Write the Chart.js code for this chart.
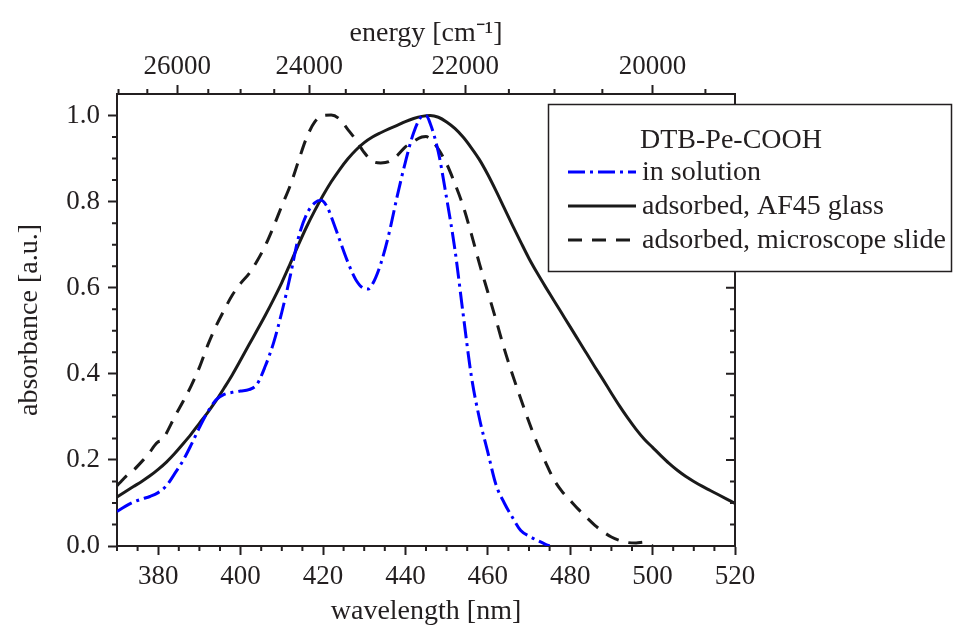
<!DOCTYPE html>
<html lang="en">
<head>
<meta charset="UTF-8">
<title>DTB-Pe-COOH absorbance</title>
<script src="https://cdn.jsdelivr.net/npm/chart.js"></script>
<style>
    html, body { margin: 0; padding: 0; background: #fff; }
    #chart { display: block; }
</style>
</head>
<body>
<canvas id="chart" width="953" height="628"></canvas>
<script>
// in solution (blue dash-dot)
const solutionWl = [370, 372, 374, 376, 378, 380, 382, 384, 386, 388, 390, 392, 394, 396, 398, 400, 402, 404, 406, 408,
    410, 412, 414, 416, 418, 419.5, 421, 422, 424, 426, 428, 430, 431, 432, 434, 436, 438, 440, 442, 444, 445, 446, 448,
    450, 452, 454, 456, 458, 460, 462, 464, 466, 468, 470, 472, 474, 475];
const solutionAbs = [0.080, 0.092, 0.102, 0.109, 0.115, 0.124, 0.140, 0.168, 0.198, 0.235, 0.275, 0.311, 0.339, 0.352, 0.357, 0.360, 0.363, 0.376, 0.418, 0.472,
    0.543, 0.625, 0.715, 0.770, 0.797, 0.803, 0.788, 0.765, 0.712, 0.660, 0.618, 0.598, 0.597, 0.608, 0.655, 0.725, 0.812, 0.892, 0.960, 0.998, 1.0, 0.982, 0.915,
    0.808, 0.690, 0.540, 0.395, 0.295, 0.218, 0.142, 0.100, 0.066, 0.036, 0.023, 0.013, 0.004, 0.0];

// adsorbed, AF45 glass (solid)
const af45Wl = [370, 372, 374, 376, 378, 380, 382, 384, 386, 388, 390, 392, 394, 396, 398, 400, 402, 404, 406, 408,
    410, 412, 414, 416, 418, 420, 422, 424, 426, 428, 430, 432, 434, 436, 438, 440, 442, 444, 446, 448,
    450, 452, 454, 456, 458, 460, 462, 464, 466, 468, 470, 472, 474, 476, 478, 480, 482, 484, 486, 488,
    490, 492, 494, 496, 498, 500, 502, 504, 506, 508, 510, 512, 514, 516, 518, 520];
const af45Abs = [0.114, 0.126, 0.138, 0.150, 0.163, 0.178, 0.195, 0.215, 0.237, 0.260, 0.285, 0.310, 0.337, 0.367, 0.398, 0.432, 0.467, 0.501, 0.536, 0.573,
    0.612, 0.655, 0.699, 0.741, 0.779, 0.814, 0.846, 0.874, 0.899, 0.920, 0.937, 0.950, 0.960, 0.969, 0.977, 0.986, 0.993, 0.998, 1.0, 0.996,
    0.985, 0.970, 0.950, 0.925, 0.897, 0.863, 0.825, 0.785, 0.745, 0.706, 0.668, 0.634, 0.602, 0.571, 0.540, 0.509, 0.478, 0.447, 0.416, 0.386,
    0.355, 0.325, 0.297, 0.271, 0.248, 0.229, 0.210, 0.192, 0.176, 0.162, 0.150, 0.139, 0.129, 0.119, 0.109, 0.099];

// adsorbed, microscope slide (dashed)
const slideWl = [370, 371, 372, 374, 376, 378, 379, 380, 381, 382, 384, 386, 388, 390, 392, 394, 396, 398, 400, 402,
    404, 406, 408, 410, 412, 414, 416, 418, 420, 422, 424, 426, 428, 430, 432, 434, 436, 438, 440, 442,
    444, 445, 446, 448, 450, 452, 454, 456, 458, 460, 462, 464, 466, 468, 470, 472, 474, 476, 478, 480,
    482, 484, 486, 488, 490, 492, 494, 496, 498, 499, 500];
const slideAbs = [0.140, 0.150, 0.160, 0.176, 0.196, 0.218, 0.232, 0.242, 0.246, 0.262, 0.300, 0.335, 0.372, 0.415, 0.466, 0.510, 0.548, 0.583, 0.610, 0.632,
    0.662, 0.698, 0.742, 0.790, 0.836, 0.893, 0.948, 0.985, 1.0, 1.001, 0.992, 0.968, 0.943, 0.914, 0.894, 0.890, 0.893, 0.907, 0.927, 0.940,
    0.950, 0.951, 0.946, 0.922, 0.888, 0.842, 0.790, 0.725, 0.655, 0.590, 0.525, 0.458, 0.398, 0.342, 0.288, 0.238, 0.195, 0.155, 0.127, 0.106,
    0.085, 0.066, 0.048, 0.033, 0.021, 0.013, 0.008, 0.007, 0.009, 0.006, 0.0];

const wlTicks = [380, 400, 420, 440, 460, 480, 500, 520];
const absTicks = [0, 0.2, 0.4, 0.6, 0.8, 1.0];
const energyTicks = [26000, 24000, 22000, 20000];
const energyMinor = [27000, 26500, 25500, 25000, 24500, 23500, 23000, 22500, 21500, 21000, 20500, 19500];

const legendTitle = 'DTB-Pe-COOH';
const ink = '#231f20';
const serif = '"Liberation Serif", "Times New Roman", serif';
const tickFont = { family: serif, size: 27 };
const titleFont = { family: serif, size: 28 };

const toPoints = (xs, ys) => xs.map((x, i) => ({ x: x, y: ys[i] }));

// minor ticks + inward ticks on the right axis
const minorTicks = {
    id: 'minorTicks',
    afterDraw(chart) {
        const { ctx, chartArea: a, scales } = chart;
        ctx.save();
        ctx.strokeStyle = ink;
        ctx.lineWidth = 2;
        ctx.beginPath();
        for (let w = 370; w <= 520; w += 5) {
            if (wlTicks.includes(w)) continue;
            const x = scales.x.getPixelForValue(w);
            ctx.moveTo(x, a.bottom);
            ctx.lineTo(x, a.bottom + 5);
        }
        energyMinor.forEach(e => {
            const x = scales.x2.getPixelForValue(1e7 / e);
            ctx.moveTo(x, a.top);
            ctx.lineTo(x, a.top - 5);
        });
        for (let i = 0; i <= 20; i++) {
            const y = scales.y.getPixelForValue(i * 0.05);
            const major = i % 4 === 0;
            if (!major) {
                ctx.moveTo(a.left, y);
                ctx.lineTo(a.left - 5, y);
            }
            ctx.moveTo(a.right, y);
            ctx.lineTo(a.right - (major ? 9 : 5), y);
        }
        ctx.stroke();
        ctx.restore();
    }
};

// boxed legend in the upper right
const legendBox = {
    id: 'legendBox',
    afterDraw(chart) {
        const ctx = chart.ctx;
        ctx.save();
        ctx.fillStyle = '#fff';
        ctx.fillRect(548, 104, 405, 168);
        ctx.strokeStyle = ink;
        ctx.lineWidth = 1.5;
        ctx.strokeRect(548.5, 104.5, 403, 167);
        ctx.font = '28px ' + serif;
        ctx.fillStyle = ink;
        ctx.textBaseline = 'alphabetic';
        ctx.fillText(legendTitle, 640, 148);
        chart.data.datasets.forEach((ds, i) => {
            const y = 172 + i * 34;
            ctx.strokeStyle = ds.borderColor;
            ctx.lineWidth = ds.borderWidth;
            ctx.setLineDash(ds.borderDash || []);
            ctx.beginPath();
            ctx.moveTo(568, y);
            ctx.lineTo(636, y);
            ctx.stroke();
            ctx.setLineDash([]);
            ctx.fillText(ds.label, 642, y + 8);
        });
        ctx.restore();
    }
};

const axisCommon = {
    type: 'linear',
    grid: { display: true, drawOnChartArea: false, drawTicks: true, tickLength: 9, tickColor: ink, tickWidth: 2, color: ink },
    border: { display: true, color: ink, width: 2 }
};

new Chart(document.getElementById('chart'), {
    type: 'line',
    data: {
        datasets: [
            {
                label: 'in solution',
                data: toPoints(solutionWl, solutionAbs),
                borderColor: '#0000ff',
                borderWidth: 3,
                borderDash: [17, 5, 3, 5],
                pointRadius: 0,
                cubicInterpolationMode: 'monotone',
                fill: false
            },
            {
                label: 'adsorbed, AF45 glass',
                data: toPoints(af45Wl, af45Abs),
                borderColor: '#1a1a1a',
                borderWidth: 3,
                pointRadius: 0,
                cubicInterpolationMode: 'monotone',
                fill: false
            },
            {
                label: 'adsorbed, microscope slide',
                data: toPoints(slideWl, slideAbs),
                borderColor: '#1a1a1a',
                borderWidth: 3,
                borderDash: [14, 10],
                pointRadius: 0,
                cubicInterpolationMode: 'monotone',
                fill: false
            }
        ]
    },
    options: {
        responsive: false,
        animation: false,
        layout: { padding: 0 },
        plugins: { legend: { display: false }, tooltip: { enabled: false } },
        scales: {
            x: {
                ...axisCommon,
                position: 'bottom',
                min: 370, max: 520,
                afterBuildTicks: s => { s.ticks = wlTicks.map(v => ({ value: v })); },
                afterFit: s => { s.height = 82; },
                ticks: { font: tickFont, color: ink, padding: 6, autoSkip: false, maxRotation: 0, callback: v => v },
                title: { display: true, text: 'wavelength [nm]', font: titleFont, color: ink, padding: { top: 0, bottom: 0 } }
            },
            x2: {
                ...axisCommon,
                position: 'top',
                min: 370, max: 520,
                afterBuildTicks: s => { s.ticks = energyTicks.map(e => ({ value: 1e7 / e })); },
                afterFit: s => { s.height = 94; },
                ticks: { font: tickFont, color: ink, padding: 2, autoSkip: false, maxRotation: 0, callback: v => Math.round(1e7 / v) },
                title: { display: true, text: 'energy [cm⁻¹]', font: titleFont, color: ink, padding: { top: 17, bottom: 0 } }
            },
            y: {
                ...axisCommon,
                position: 'left',
                min: 0, max: 1.05,
                afterBuildTicks: s => { s.ticks = absTicks.map(v => ({ value: v })); },
                afterFit: s => { s.width = 117; },
                ticks: { font: tickFont, color: ink, padding: 8, autoSkip: false, callback: v => v.toFixed(1) },
                title: { display: true, text: 'absorbance [a.u.]', font: titleFont, color: ink, padding: { top: 13, bottom: 0 } }
            },
            y2: {
                type: 'linear',
                position: 'right',
                min: 0, max: 1.05,
                afterFit: s => { s.width = 218; },
                ticks: { display: false },
                grid: { display: false },
                border: { display: true, color: ink, width: 2 }
            }
        }
    },
    plugins: [minorTicks, legendBox]
});
</script>
</body>
</html>
